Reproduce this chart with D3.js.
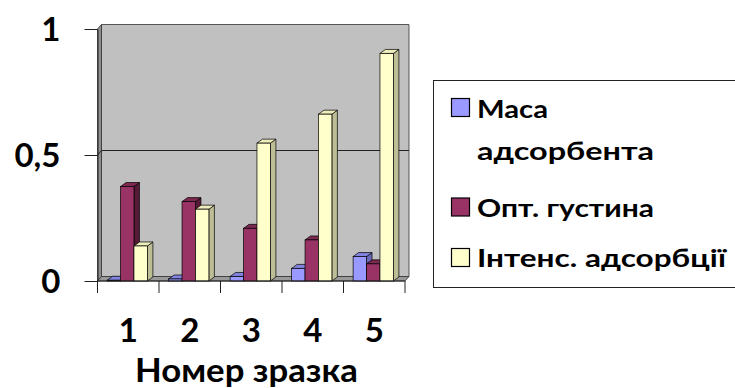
<!DOCTYPE html>
<html>
<head>
<meta charset="utf-8">
<script src="https://cdn.jsdelivr.net/npm/d3@7"></script>
<style>
  body { margin: 0; background: #fff; }
  svg { display: block; }
</style>
</head>
<body>
<svg id="chart" width="735" height="388"></svg>
<script>
// Sample numbers and measured quantities
const categories = ["1", "2", "3", "4", "5"];
const seriesKeys = ["masa", "opt", "intens"];
const masaValues   = [0.003, 0.008, 0.018, 0.050, 0.097];
const optValues    = [0.375, 0.315, 0.209, 0.163, 0.068];
const intensValues = [0.139, 0.285, 0.547, 0.662, 0.903];
const yTickValues = [0, 0.5, 1];
const yTickLabels = ["0", "0,5", "1"];
const legendLines = [["Маса", "адсорбента"], ["Опт. густина"], ["Інтенс. адсорбції"]];
const xTitle = "Номер зразка";

const seriesValues = [masaValues, optValues, intensValues];

// Face colours per series: front, top, side
const palette = [
  { front: "#9999ff", top: "#8282e0", side: "#6a6ab8" },
  { front: "#993366", top: "#7d2850", side: "#561a37" },
  { front: "#ffffcc", top: "#eeeebc", side: "#bdbd96" }
];

const FONT = "Lato, 'Open Sans', sans-serif";
const svg = d3.select("#chart");

const plot = { left: 97.5, right: 405, top: 29, bottom: 281 };
const wallDepth = { dx: 4, dy: -4.5 };
const barDepth = { dx: 5.5, dy: -4 };

const x = d3.scaleBand().domain(categories).range([plot.left, plot.right]).padding(0);
const xs = d3.scaleBand().domain(seriesKeys)
  .range([-1, x.bandwidth() - 1]).paddingInner(0).paddingOuter(0.79);
const y = d3.scaleLinear().domain([0, 1]).range([plot.bottom, plot.top]);

const pts = a => a.map(p => p.join(",")).join(" ");

// Walls and floor
const g = svg.append("g");
const wd = wallDepth;
g.append("polygon") // back wall
  .attr("points", pts([
    [plot.left + wd.dx, y(1) + wd.dy], [plot.right + wd.dx, y(1) + wd.dy],
    [plot.right + wd.dx, y(0) + wd.dy], [plot.left + wd.dx, y(0) + wd.dy]]))
  .attr("fill", "#c0c0c0").attr("stroke", "#333").attr("stroke-width", 0.8);
g.append("polygon") // side wall
  .attr("points", pts([
    [plot.left, y(1)], [plot.left + wd.dx, y(1) + wd.dy],
    [plot.left + wd.dx, y(0) + wd.dy], [plot.left, y(0)]]))
  .attr("fill", "#8e8e8e").attr("stroke", "#333").attr("stroke-width", 0.8);
g.append("polygon") // floor
  .attr("points", pts([
    [plot.left, y(0)], [plot.right, y(0)],
    [plot.right + wd.dx, y(0) + wd.dy], [plot.left + wd.dx, y(0) + wd.dy]]))
  .attr("fill", "#9a9a9a").attr("stroke", "#333").attr("stroke-width", 0.8);

// Gridlines across side and back walls
g.selectAll(".grid").data(yTickValues.filter(v => v > 0 && v < 1)).join("polyline")
  .attr("class", "grid")
  .attr("points", v => pts([[plot.left, y(v)], [plot.left + wd.dx, y(v) + wd.dy],
                            [plot.right + wd.dx, y(v) + wd.dy]]))
  .attr("fill", "none").attr("stroke", "#222").attr("stroke-width", 1);

// Bars, drawn left to right so nearer faces overlap
const bd = barDepth;
const bars = [];
categories.forEach((c, i) => {
  seriesKeys.forEach((k, s) => {
    bars.push({ c, k, s, v: seriesValues[s][i] });
  });
});
const barG = svg.append("g").selectAll("g").data(bars).join("g");
barG.each(function(d) {
  const el = d3.select(this);
  const x0 = x(d.c) + xs(d.k), w = xs.bandwidth();
  const yv = y(d.v), y0 = y(0);
  const col = palette[d.s];
  el.append("polygon")
    .attr("points", pts([[x0 + w, yv], [x0 + w + bd.dx, yv + bd.dy],
                         [x0 + w + bd.dx, y0 + bd.dy], [x0 + w, y0]]))
    .attr("fill", col.side).attr("stroke", "#000").attr("stroke-width", 0.7)
    .attr("stroke-linejoin", "round");
  el.append("polygon")
    .attr("points", pts([[x0, yv], [x0 + w, yv], [x0 + w + bd.dx, yv + bd.dy],
                         [x0 + bd.dx, yv + bd.dy]]))
    .attr("fill", col.top).attr("stroke", "#000").attr("stroke-width", 0.7)
    .attr("stroke-linejoin", "round");
  el.append("rect")
    .attr("x", x0).attr("y", yv).attr("width", w).attr("height", y0 - yv)
    .attr("fill", col.front).attr("stroke", "#000").attr("stroke-width", 0.7);
});

// Y axis
const yAxis = d3.axisLeft(y).tickValues(yTickValues)
  .tickFormat((d, i) => yTickLabels[i]).tickSize(13).tickSizeOuter(0).tickPadding(24);
const yg = svg.append("g").attr("transform", `translate(${plot.left},0)`).call(yAxis);
yg.select(".domain").attr("stroke", "#222");
yg.selectAll(".tick line").attr("stroke", "#222");
yg.selectAll(".tick text")
  .attr("font-family", FONT).attr("font-weight", "bold").attr("font-size", 33)
  .attr("fill", "#000").attr("dy", "0.36em");

// X axis: tick marks at category boundaries, labels centred in bands
const bounds = categories.map(c => x(c)).concat([plot.right]);
svg.append("g").selectAll("line").data(bounds).join("line")
  .attr("x1", d => d).attr("x2", d => d)
  .attr("y1", y(0)).attr("y2", y(0) + 12)
  .attr("stroke", "#222").attr("stroke-width", 1);
svg.append("line")
  .attr("x1", plot.left).attr("x2", plot.right).attr("y1", y(0)).attr("y2", y(0))
  .attr("stroke", "#222");
const xAxis = d3.axisBottom(x).tickSize(0).tickPadding(0);
const xg = svg.append("g").attr("transform", `translate(0,${y(0)})`).call(xAxis);
xg.select(".domain").remove();
xg.selectAll(".tick text")
  .attr("font-family", FONT).attr("font-weight", "bold").attr("font-size", 33)
  .attr("fill", "#000").attr("dy", null).attr("y", 60.5);

// Fit a text element to a target width
function fit(sel, width) {
  const n = sel.node();
  const w = n.getComputedTextLength();
  if (Math.abs(w - width) / width > 0.02) {
    sel.attr("textLength", width).attr("lengthAdjust", "spacingAndGlyphs");
  }
}

svg.append("text")
  .attr("x", 246.5).attr("y", 381.5).attr("text-anchor", "middle")
  .attr("font-family", FONT).attr("font-weight", "bold").attr("font-size", 33)
  .attr("fill", "#000").text(xTitle)
  .call(fit, 223);

// Legend
const legend = svg.append("g");
legend.append("rect")
  .attr("x", 433.5).attr("y", 80.5).attr("width", 330).attr("height", 207)
  .attr("fill", "#fff").attr("stroke", "#222").attr("stroke-width", 1);
const rowSwatchY = [98.5, 198, 248.5];
const rowBaselines = [[117.5, 160], [216.5], [267]];
const lineWidths = [[71, 177], [177], [249]];
legendLines.forEach((lines, s) => {
  legend.append("rect")
    .attr("x", 451.5).attr("y", rowSwatchY[s]).attr("width", 18).attr("height", 18)
    .attr("fill", palette[s].front).attr("stroke", "#000").attr("stroke-width", 1.2);
  lines.forEach((t, j) => {
    legend.append("text")
      .attr("x", 477).attr("y", rowBaselines[s][j])
      .attr("font-family", FONT).attr("font-weight", "bold").attr("font-size", 25.5)
      .attr("fill", "#000").text(t)
      .call(fit, lineWidths[s][j]);
  });
});
</script>
</body>
</html>
